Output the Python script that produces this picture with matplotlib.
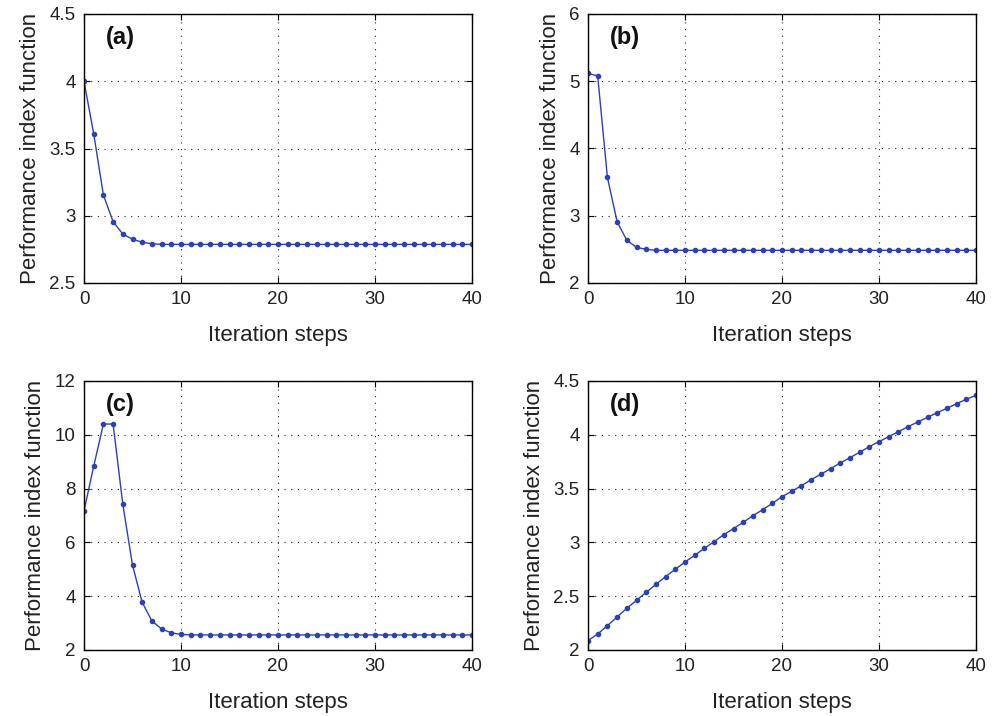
import numpy as np
import matplotlib
matplotlib.use('Agg')
import matplotlib.pyplot as plt

plt.rcParams['font.family'] = ['Liberation Sans', 'DejaVu Sans']

steps = list(range(41))

perf_a = [4.0, 3.61, 3.154, 2.956, 2.864, 2.825, 2.803, 2.792] + [2.787] * 33
perf_b = [5.118, 5.078, 3.57, 2.912, 2.635, 2.53, 2.50] + [2.486] * 34
perf_c = [7.17, 8.83, 10.4, 10.4, 7.42, 5.15, 3.77, 3.08, 2.78, 2.64, 2.58] + [2.56] * 30
perf_d = [2.087, 2.149, 2.226, 2.307, 2.387, 2.462, 2.536, 2.610, 2.682, 2.750,
          2.818, 2.880, 2.945, 3.007, 3.072, 3.128, 3.187, 3.248, 3.304, 3.363,
          3.425, 3.475, 3.527, 3.583, 3.633, 3.685, 3.738, 3.787, 3.837, 3.890,
          3.936, 3.983, 4.029, 4.076, 4.119, 4.162, 4.206, 4.246, 4.289, 4.330,
          4.367]

panels = [
    ('(a)', perf_a, (2.5, 4.5), [2.5, 3, 3.5, 4, 4.5], ['2.5', '3', '3.5', '4', '4.5']),
    ('(b)', perf_b, (2, 6), [2, 3, 4, 5, 6], ['2', '3', '4', '5', '6']),
    ('(c)', perf_c, (2, 12), [2, 4, 6, 8, 10, 12], ['2', '4', '6', '8', '10', '12']),
    ('(d)', perf_d, (2, 4.5), [2, 2.5, 3, 3.5, 4, 4.5], ['2', '2.5', '3', '3.5', '4', '4.5']),
]

W, H = 999, 716
boxes = [(84, 14), (588, 14), (84, 381), (588, 381)]
ax_w, ax_h = 388, 269
line_color = '#2c42b0'

fig = plt.figure(figsize=(W / 100, H / 100), dpi=100)

for (lab, vals, ylim, yt, ytl), (x0, y0) in zip(panels, boxes):
    ax = fig.add_axes([x0 / W, 1 - (y0 + ax_h) / H, ax_w / W, ax_h / H])
    ax.plot(steps, vals, color=line_color, linewidth=1.0, marker='o', markersize=3,
            markerfacecolor=line_color, markeredgecolor=line_color)
    ax.set_xlim(0, 40)
    ax.set_ylim(*ylim)
    ax.set_xticks([0, 10, 20, 30, 40])
    ax.set_yticks(yt)
    ax.set_yticklabels(ytl)
    ax.grid(True, linestyle=(0, (1, 5)), color='#222222', linewidth=0.8)
    ax.tick_params(direction='in', top=True, right=True, labelsize=13.5, length=4,
                   pad=6, labelcolor='#222222')
    for sp in ax.spines.values():
        sp.set_linewidth(1.0)
    ax.set_xlabel('Iteration steps', fontsize=16, labelpad=12, color='#222222')
    ax.set_ylabel('Performance index function', fontsize=16, labelpad=6, color='#222222')
    ax.text(0.057, 0.955, lab, transform=ax.transAxes, fontsize=17, fontweight='bold',
            ha='left', va='top', color='#111111')

fig.savefig('out.png', dpi=100)
